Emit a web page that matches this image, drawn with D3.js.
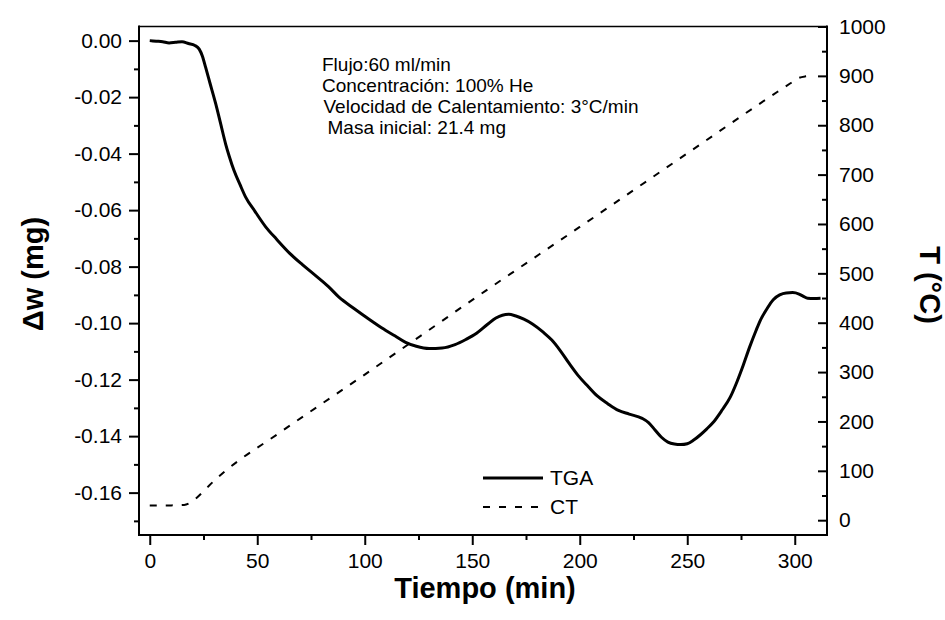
<!DOCTYPE html>
<html>
<head>
<meta charset="utf-8">
<script src="https://cdn.jsdelivr.net/npm/d3@7"></script>
<style>
  body { margin: 0; background: #fff; }
  svg { display: block; font-family: Arial, 'Liberation Sans', sans-serif; }
  .axis text { font-size: 21px; fill: #000; }
  .axis path, .axis line { stroke: #000; }
</style>
</head>
<body>
<svg></svg>
<script>
'use strict';

// TGA curve: time (min) and mass change (mg)
var tgaTime = [0, 3, 6, 9, 12, 15, 18, 21, 23, 24.5, 26, 28, 30.7, 33, 35.3, 37, 39.2, 42, 44.6, 49,
  54, 59, 65, 71, 77, 83, 88, 95, 102, 108, 114, 119, 124, 130, 136, 142, 147, 152, 157, 161,
  164, 167, 170, 174, 178, 183, 187, 191, 195, 199, 204, 208, 213, 218, 223, 229, 232, 235, 238, 241,
  244, 247, 250, 253, 256, 259, 262, 266, 270, 273, 276, 279, 282, 284, 287, 290, 293, 296, 299, 302,
  304, 306, 309, 312];
var tgaMass = [0, -0.0002, -0.0004, -0.0008, -0.0006, -0.0004, -0.0010, -0.0017, -0.0030, -0.0055,
  -0.0095, -0.0150, -0.0224, -0.0295, -0.0366, -0.0410, -0.0460, -0.0510, -0.0554, -0.0605,
  -0.0660, -0.0703, -0.0752, -0.0793, -0.0831, -0.0870, -0.0908, -0.0948, -0.0986, -0.1017,
  -0.1045, -0.1068, -0.1082, -0.1090, -0.1088, -0.1076, -0.1058, -0.1036, -0.1005, -0.0982,
  -0.0972, -0.0969, -0.0974, -0.0986, -0.1003, -0.1032, -0.1060, -0.1098, -0.1142, -0.1183,
  -0.1225, -0.1257, -0.1285, -0.1309, -0.1322, -0.1337, -0.1352, -0.1378, -0.1404, -0.1421,
  -0.1428, -0.1430, -0.1427, -0.1414, -0.1396, -0.1375, -0.1352, -0.1310, -0.1262, -0.1210,
  -0.1150, -0.1085, -0.1026, -0.0990, -0.0950, -0.0917, -0.0900, -0.0893, -0.0892, -0.0897,
  -0.0905, -0.0912, -0.0913, -0.0912];

// CT curve: time (min) and temperature (°C)
var ctTime = [0, 10, 16, 19, 22, 26, 30, 35, 60, 100, 156, 200, 250, 290, 298, 302, 305, 308];
var ctTemp = [30, 30, 31, 36, 46, 63, 80, 99, 176, 295, 464, 594, 743, 862, 885, 896, 899, 900];

// ticks
var xMajor = [0, 50, 100, 150, 200, 250, 300];
var xMinor = [25, 75, 125, 175, 225, 275];
var yMajor = [0, -0.02, -0.04, -0.06, -0.08, -0.10, -0.12, -0.14, -0.16];
var yMinor = [-0.01, -0.03, -0.05, -0.07, -0.09, -0.11, -0.13, -0.15, -0.17];
var tMajor = [0, 100, 200, 300, 400, 500, 600, 700, 800, 900, 1000];
var tMinor = [50, 150, 250, 350, 450, 550, 650, 750, 850, 950];

var notes = ['Flujo:60 ml/min', 'Concentración: 100% He',
  'Velocidad de Calentamiento: 3°C/min', 'Masa inicial: 21.4 mg'];
var legendNames = ['TGA', 'CT'];

var svg = d3.select('svg')
  .attr('width', 945)
  .attr('height', 620);

var plotLeft = 139, plotRight = 827, plotTop = 26.5, plotBottom = 535;

var xScale = d3.scaleLinear().domain([-5, 315]).range([plotLeft, plotRight]);
var yScale = d3.scaleLinear().domain([-0.175, 0.005]).range([plotBottom, plotTop]);
var tScale = d3.scaleLinear().domain([-30, 1000]).range([plotBottom, plotTop]);

// plain hyphen for negative labels, like the original
var massFormat = function(d) {
  return d3.format('.2f')(d).replace('\u2212', '-');
};

// top border line
svg.append('line')
  .attr('x1', plotLeft).attr('x2', plotRight)
  .attr('y1', plotTop).attr('y2', plotTop)
  .attr('stroke', '#000')
  .attr('stroke-width', 1.5);

// bottom axis
svg.append('g')
  .attr('class', 'axis')
  .attr('transform', 'translate(0,' + plotBottom + ')')
  .call(d3.axisBottom(xScale).tickValues(xMajor).tickSize(10).tickSizeOuter(0).tickPadding(8)
    .tickFormat(d3.format('d')));
svg.append('g')
  .attr('class', 'axis')
  .attr('transform', 'translate(0,' + plotBottom + ')')
  .call(d3.axisBottom(xScale).tickValues(xMinor).tickSize(5).tickSizeOuter(0).tickFormat(''));

// left axis
svg.append('g')
  .attr('class', 'axis')
  .attr('transform', 'translate(' + plotLeft + ',0)')
  .call(d3.axisLeft(yScale).tickValues(yMajor).tickSize(10).tickSizeOuter(0).tickPadding(7)
    .tickFormat(massFormat));
svg.append('g')
  .attr('class', 'axis')
  .attr('transform', 'translate(' + plotLeft + ',0)')
  .call(d3.axisLeft(yScale).tickValues(yMinor).tickSize(5).tickSizeOuter(0).tickFormat(''));

// right axis, ticks pointing into the plot
var rightAxis = svg.append('g')
  .attr('class', 'axis')
  .attr('transform', 'translate(' + plotRight + ',0)')
  .call(d3.axisRight(tScale).tickValues(tMajor).tickSize(-9).tickSizeOuter(0).tickFormat(d3.format('d')));
rightAxis.selectAll('text').attr('x', 12);
svg.append('g')
  .attr('class', 'axis')
  .attr('transform', 'translate(' + plotRight + ',0)')
  .call(d3.axisRight(tScale).tickValues(tMinor).tickSize(-5).tickSizeOuter(0).tickFormat(''));

svg.selectAll('.axis line').attr('stroke-width', 2);
// axis lines drawn full height / width
svg.selectAll('.axis path').remove();
[[plotLeft, plotTop, plotLeft, plotBottom], [plotRight, plotTop, plotRight, plotBottom],
  [plotLeft, plotBottom, plotRight, plotBottom]].forEach(function(s) {
  svg.append('line')
    .attr('x1', s[0]).attr('y1', s[1]).attr('x2', s[2]).attr('y2', s[3])
    .attr('stroke', '#000').attr('stroke-width', 2).attr('stroke-linecap', 'square');
});

// curves
var tgaLine = d3.line()
  .x(function(d, i) { return xScale(tgaTime[i]); })
  .y(function(d) { return yScale(d); })
  .curve(d3.curveMonotoneX);
var ctLine = d3.line()
  .x(function(d, i) { return xScale(ctTime[i]); })
  .y(function(d) { return tScale(d); })
  .curve(d3.curveMonotoneX);

svg.append('path')
  .datum(ctTemp)
  .attr('d', ctLine)
  .attr('fill', 'none')
  .attr('stroke', '#000')
  .attr('stroke-width', 2)
  .attr('stroke-dasharray', '7,9');

svg.append('path')
  .datum(tgaMass)
  .attr('d', tgaLine)
  .attr('fill', 'none')
  .attr('stroke', '#000')
  .attr('stroke-width', 3)
  .attr('stroke-linejoin', 'round');

// notes
var noteX = [322, 322, 323.5, 327.5];
svg.selectAll('.note')
  .data(notes)
  .enter().append('text')
  .attr('class', 'note')
  .attr('x', function(d, i) { return noteX[i]; })
  .attr('y', function(d, i) { return 71 + i * 21; })
  .style('font-size', '19px')
  .text(function(d) { return d; });

// legend
var legend = svg.selectAll('.legend')
  .data(legendNames)
  .enter().append('g')
  .attr('class', 'legend')
  .attr('transform', function(d, i) { return 'translate(0,' + (478 + i * 29) + ')'; });
legend.append('line')
  .attr('x1', 483).attr('x2', 543)
  .attr('stroke', '#000')
  .attr('stroke-width', function(d, i) { return i === 0 ? 3 : 2; })
  .attr('stroke-dasharray', function(d, i) { return i === 0 ? null : '7,9'; });
legend.append('text')
  .attr('x', 550)
  .attr('dy', '.35em')
  .style('font-size', '21px')
  .text(function(d) { return d; });

// axis titles
svg.append('text')
  .attr('x', 485)
  .attr('y', 598)
  .style('text-anchor', 'middle')
  .style('font-size', '29px')
  .style('font-weight', 'bold')
  .text('Tiempo (min)');

svg.append('text')
  .attr('transform', 'translate(43,274) rotate(-90)')
  .style('text-anchor', 'middle')
  .style('font-size', '29px')
  .style('font-weight', 'bold')
  .text('Δw (mg)');

svg.append('text')
  .attr('transform', 'translate(920,285) rotate(90)')
  .style('text-anchor', 'middle')
  .style('font-size', '29px')
  .style('font-weight', 'bold')
  .text('T (°C)');
</script>
</body>
</html>
